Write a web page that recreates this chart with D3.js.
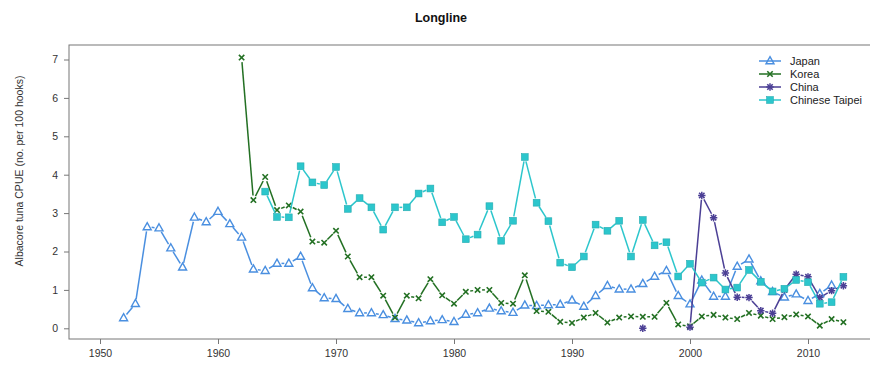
<!DOCTYPE html>
<html>
<head>
<meta charset="utf-8">
<script src="https://cdn.jsdelivr.net/npm/d3@7"></script>
<style>
  body { margin: 0; background: #fff; }
  text { font-family: "Liberation Sans", Arial, sans-serif; }
</style>
</head>
<body>
<div id="viz"></div>
<script>
const japanYears = [1952,1953,1954,1955,1956,1957,1958,1959,1960,1961,1962,1963,1964,1965,1966,1967,1968,1969,1970,1971,1972,1973,1974,1975,1976,1977,1978,1979,1980,1981,1982,1983,1984,1985,1986,1987,1988,1989,1990,1991,1992,1993,1994,1995,1996,1997,1998,1999,2000,2001,2002,2003,2004,2005,2006,2007,2008,2009,2010,2011,2012];
const japanCpue = [0.27,0.64,2.64,2.61,2.09,1.59,2.89,2.77,3.04,2.72,2.37,1.54,1.50,1.69,1.69,1.87,1.05,0.79,0.77,0.51,0.40,0.40,0.35,0.25,0.21,0.14,0.19,0.22,0.17,0.36,0.40,0.52,0.45,0.41,0.60,0.59,0.61,0.62,0.73,0.57,0.85,1.11,1.02,1.02,1.16,1.35,1.50,0.85,0.63,1.25,0.83,0.83,1.61,1.80,1.23,0.95,0.81,0.89,0.72,0.90,1.12];

const koreaYears = [1962,1963,1964,1965,1966,1967,1968,1969,1970,1971,1972,1973,1974,1975,1976,1977,1978,1979,1980,1981,1982,1983,1984,1985,1986,1987,1988,1989,1990,1991,1992,1993,1994,1995,1996,1997,1998,1999,2000,2001,2002,2003,2004,2005,2006,2007,2008,2009,2010,2011,2012,2013];
const koreaCpue = [7.05,3.34,3.94,3.08,3.20,3.04,2.26,2.23,2.54,1.87,1.33,1.33,0.85,0.28,0.85,0.78,1.28,0.86,0.64,0.95,1.00,1.00,0.66,0.64,1.38,0.45,0.43,0.17,0.14,0.28,0.40,0.15,0.28,0.31,0.30,0.30,0.66,0.10,0.05,0.31,0.35,0.28,0.24,0.40,0.33,0.24,0.29,0.36,0.31,0.07,0.24,0.16];

// china has no values 1997-1999
const chinaYears = [1996,1997,1998,1999,2000,2001,2002,2003,2004,2005,2006,2007,2008,2009,2010,2011,2012,2013];
const chinaCpue = [0.00,null,null,null,0.03,3.46,2.88,1.44,0.81,0.80,0.46,0.39,1.00,1.41,1.34,0.80,0.98,1.11];

const taipeiYears = [1964,1965,1966,1967,1968,1969,1970,1971,1972,1973,1974,1975,1976,1977,1978,1979,1980,1981,1982,1983,1984,1985,1986,1987,1988,1989,1990,1991,1992,1993,1994,1995,1996,1997,1998,1999,2000,2001,2002,2003,2004,2005,2006,2007,2008,2009,2010,2011,2012,2013];
const taipeiCpue = [3.56,2.90,2.89,4.22,3.80,3.73,4.20,3.11,3.39,3.15,2.57,3.15,3.15,3.51,3.64,2.76,2.90,2.32,2.44,3.18,2.28,2.80,4.46,3.27,2.79,1.71,1.59,1.87,2.70,2.54,2.80,1.87,2.82,2.16,2.24,1.35,1.68,1.19,1.32,1.01,1.06,1.52,1.21,0.96,1.03,1.26,1.20,0.64,0.68,1.34];

const seriesNames = ["Japan", "Korea", "China", "Chinese Taipei"];
const xTicks = [1950, 1960, 1970, 1980, 1990, 2000, 2010];
const yTicks = [0, 1, 2, 3, 4, 5, 6, 7];

const series = [
    {name: seriesNames[0], years: japanYears, vals: japanCpue, color: "#4a8fe0", shape: "tri"},
    {name: seriesNames[1], years: koreaYears, vals: koreaCpue, color: "#237023", shape: "x"},
    {name: seriesNames[2], years: chinaYears, vals: chinaCpue, color: "#4b3f95", shape: "star"},
    {name: seriesNames[3], years: taipeiYears, vals: taipeiCpue, color: "#2cc6cc", shape: "sq"}
];

width = 870;
height = 367;
const boxLeft = 69, boxTop = 45, boxBottom = 339, boxRight = 880;

const x = d3.scaleLinear().domain([1950, 2010]).range([100, 808]);
const y = d3.scaleLinear().domain([0, 7]).range([328.3, 59.5]);

const svg = d3.select("#viz")
    .append("svg")
    .attr("width", width)
    .attr("height", height);

// title
svg.append("text")
    .attr("x", 441)
    .attr("y", 22)
    .attr("text-anchor", "middle")
    .attr("font-weight", "bold")
    .attr("font-size", "12.5px")
    .attr("fill", "#111")
    .text("Longline");

// plot box
svg.append("rect")
    .attr("x", boxLeft)
    .attr("y", boxTop)
    .attr("width", boxRight - boxLeft)
    .attr("height", boxBottom - boxTop)
    .attr("fill", "none")
    .attr("stroke", "#777")
    .attr("stroke-width", 1);

// axes
const yAxis = svg.append("g")
    .attr("transform", "translate(" + boxLeft + ",0)")
    .call(d3.axisLeft(y).tickValues(yTicks).tickFormat(d3.format("d")).tickSize(5).tickSizeOuter(0).tickPadding(6));
const xAxis = svg.append("g")
    .attr("transform", "translate(0," + boxBottom + ")")
    .call(d3.axisBottom(x).tickValues(xTicks).tickFormat(d3.format("d")).tickSize(5).tickSizeOuter(0).tickPadding(6));
[yAxis, xAxis].forEach(a => {
    a.select(".domain").remove();
    a.selectAll("line").attr("stroke", "#777");
    a.selectAll("text").attr("fill", "#333").attr("font-size", "10.5px")
        .style("font-family", "Liberation Sans, Arial, sans-serif");
});

svg.append("text")
    .attr("transform", "translate(23,171) rotate(-90)")
    .attr("text-anchor", "middle")
    .attr("font-size", "10.5px")
    .attr("fill", "#333")
    .text("Albacore tuna CPUE (no. per 100 hooks)");

// marker drawing, like R pch 2 / 4 / 8 / 15
function drawMarker(g, shape, color, cx, cy) {
    if (shape == "tri") {
        g.append("path")
            .attr("d", "M" + cx + "," + (cy - 4.3) + "L" + (cx + 4) + "," + (cy + 2.8) + "L" + (cx - 4) + "," + (cy + 2.8) + "Z")
            .attr("fill", "none").attr("stroke", color).attr("stroke-width", 1.4);
    } else if (shape == "x" || shape == "star") {
        const r = 2.7;
        g.append("path")
            .attr("d", "M" + (cx - r) + "," + (cy - r) + "L" + (cx + r) + "," + (cy + r) + "M" + (cx - r) + "," + (cy + r) + "L" + (cx + r) + "," + (cy - r))
            .attr("stroke", color).attr("stroke-width", 1.6);
        if (shape == "star") {
            g.append("path")
                .attr("d", "M" + (cx - 3.7) + "," + cy + "L" + (cx + 3.7) + "," + cy + "M" + cx + "," + (cy - 3.7) + "L" + cx + "," + (cy + 3.7))
                .attr("stroke", color).attr("stroke-width", 1.5);
        }
    } else {
        g.append("rect")
            .attr("x", cx - 3.4).attr("y", cy - 3.4)
            .attr("width", 6.8).attr("height", 6.8)
            .attr("fill", color).attr("stroke", d3.color(color).darker(0.4)).attr("stroke-width", 0.6);
    }
}

// lines with gaps around points (type = "b")
const gap = 4.5;
series.forEach(s => {
    const g = svg.append("g").attr("class", "series");
    const pts = s.years.map((yr, i) => ({yr: yr, v: s.vals[i]}));
    for (let i = 0; i < pts.length - 1; i++) {
        const a = pts[i], b = pts[i + 1];
        if (a.v == null || b.v == null) continue;
        const x1 = x(a.yr), y1 = y(a.v), x2 = x(b.yr), y2 = y(b.v);
        const len = Math.hypot(x2 - x1, y2 - y1);
        if (len <= 2 * gap) continue;
        const ux = (x2 - x1) / len, uy = (y2 - y1) / len;
        g.append("line")
            .attr("x1", x1 + ux * gap).attr("y1", y1 + uy * gap)
            .attr("x2", x2 - ux * gap).attr("y2", y2 - uy * gap)
            .attr("stroke", s.color)
            .attr("stroke-width", 1.5);
    }
    pts.filter(p => p.v != null).forEach(p => drawMarker(g, s.shape, s.color, x(p.yr), y(p.v)));
});

// legend
const legend = svg.append("g").attr("class", "legend");
series.forEach((s, i) => {
    const ly = 61 + i * 13;
    legend.append("line")
        .attr("x1", 759).attr("x2", 781)
        .attr("y1", ly).attr("y2", ly)
        .attr("stroke", s.color).attr("stroke-width", 1.5);
    drawMarker(legend, s.shape, s.color, 770, ly);
    legend.append("text")
        .attr("x", 790).attr("y", ly + 4)
        .attr("font-size", "11px")
        .attr("fill", "#222")
        .text(s.name);
});
</script>
</body>
</html>
